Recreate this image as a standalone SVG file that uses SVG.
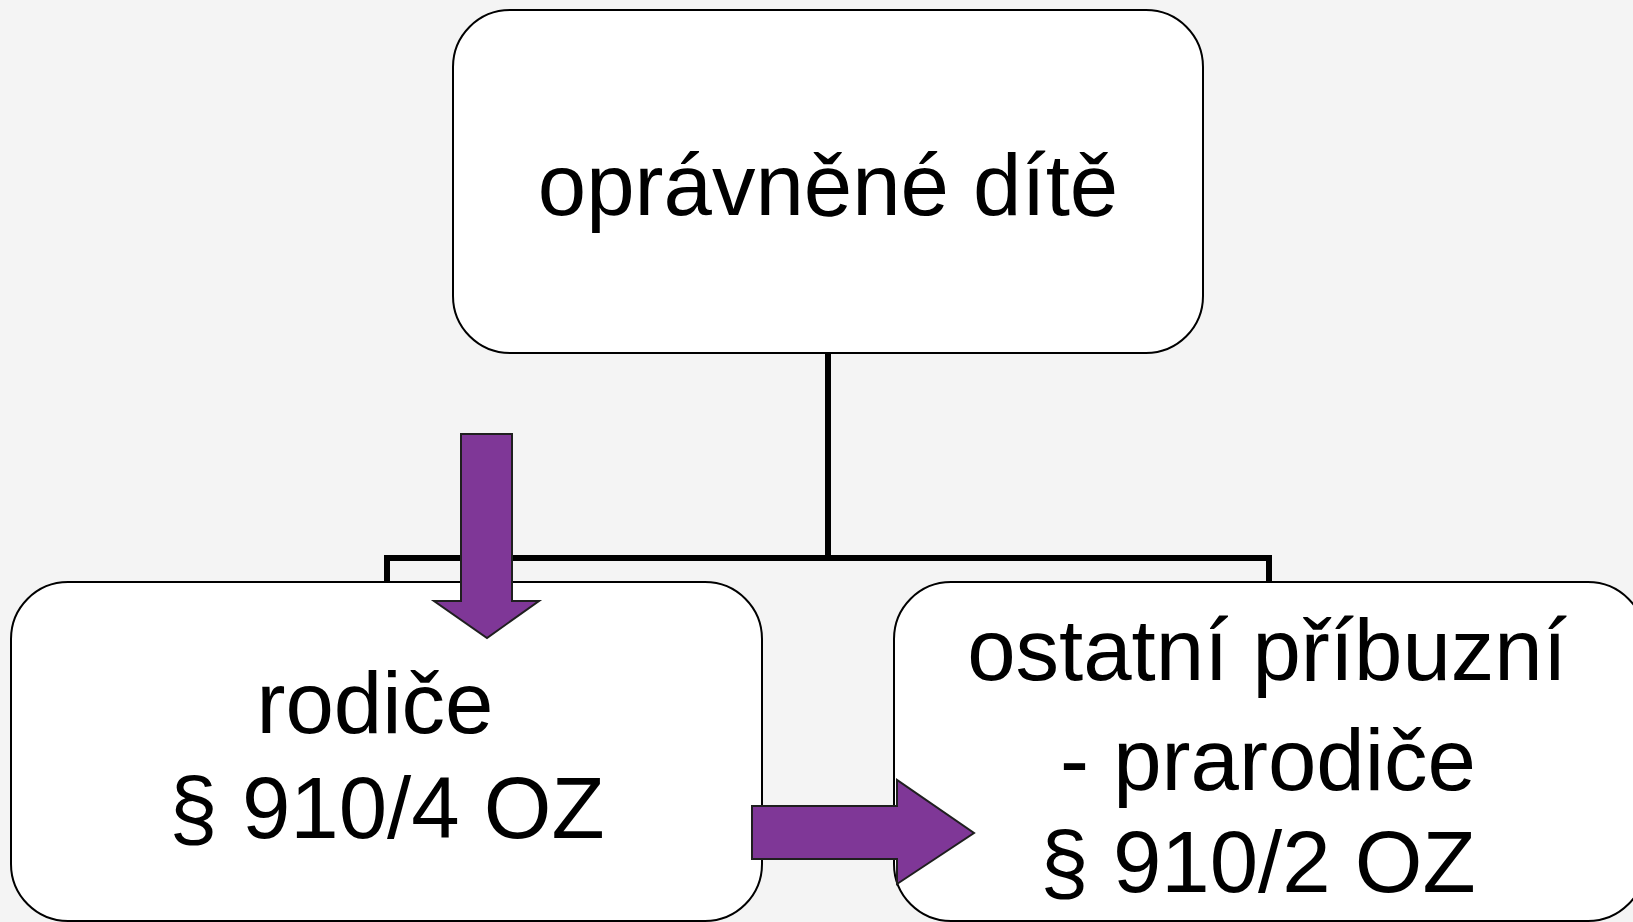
<svg xmlns="http://www.w3.org/2000/svg" width="1633" height="922" viewBox="0 0 1633 922">
  <style>
    .box { fill: #ffffff; stroke: #000000; stroke-width: 2; }
    .lbl { font-family: "Liberation Sans", Arial, sans-serif; font-size: 87px; fill: #000000; text-anchor: middle; }
    .conn { fill: none; stroke: #000000; stroke-width: 6; stroke-linejoin: miter; }
    .arrow { fill: #7f3797; stroke: #1f1f1f; stroke-width: 2; stroke-linejoin: miter; }
  </style>
  <rect x="0" y="0" width="1633" height="922" fill="#f4f4f4"/>
  <g id="connectors">
    <path class="conn" d="M828,353 V558 M387,582 V558 H1269 V582"/>
  </g>
  <g id="node-top">
    <rect class="box" x="453" y="10" width="750" height="343" rx="57" ry="57"/>
    <text class="lbl" x="828" y="215">oprávněné dítě</text>
  </g>
  <g id="node-left">
    <rect class="box" x="11" y="582" width="751" height="339" rx="57" ry="57"/>
    <text class="lbl" x="375" y="733">rodiče</text>
    <text class="lbl" x="387" y="838">§ 910/4 OZ</text>
  </g>
  <g id="node-right">
    <rect class="box" x="894" y="582" width="751" height="339" rx="57" ry="57"/>
    <text class="lbl" x="1267" y="680">ostatní příbuzní</text>
    <text class="lbl" x="1268" y="790">- prarodiče</text>
    <text class="lbl" x="1258" y="892">§ 910/2 OZ</text>
  </g>
  <g id="arrow-down">
    <polygon class="arrow" points="461,434 512,434 512,601 539,601 487,638 434,601 461,601"/>
  </g>
  <g id="arrow-right">
    <polygon class="arrow" points="752,806 897,806 897,780 974,833 897,884 897,859 752,859"/>
  </g>
</svg>
